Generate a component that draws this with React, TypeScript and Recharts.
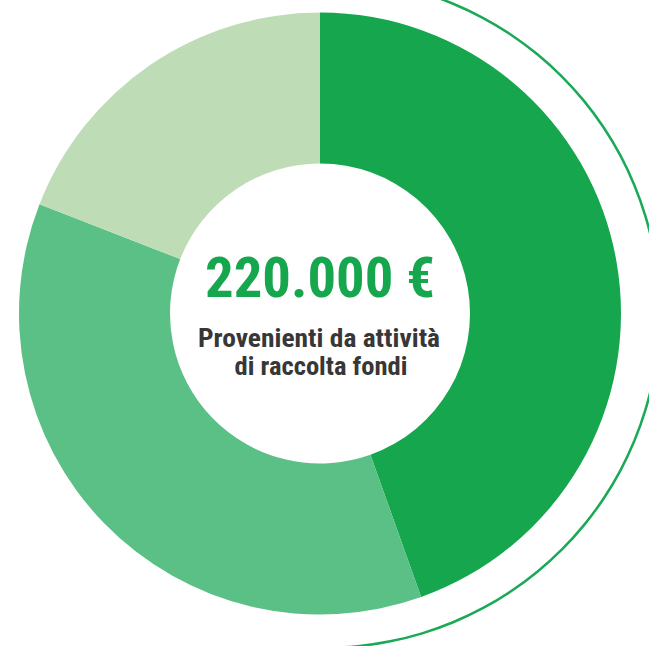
import { PieChart, Pie, Cell } from "recharts";

const sliceNames = ["Quota A", "Quota B", "Quota C"];
const sliceValues = [98000, 80000, 42000];
const totalLabel = "220.000 €";
const captionLines = ["Provenienti da attività", "di raccolta fondi"];
const ringValues = [1];

const COLORS = ["#16a74e", "#5bc085", "#bedcb6"];
const GREEN = "#16a74e";
const FONT = "'Roboto Condensed', 'Liberation Sans Narrow', 'DejaVu Sans Condensed', Roboto, sans-serif";

const data = sliceNames.map((name, i) => ({ name, value: sliceValues[i] }));
const ringData = ringValues.map((value) => ({ value }));

const CX = 320;
const CY = 313.5;

// texts in the hole of the donut, laid over the chart
function CenterText() {
  return (
    <svg
      width={649}
      height={646}
      style={{ position: "absolute", left: 0, top: 0, pointerEvents: "none" }}
    >
      <text
        x={CX}
        y={CY - 17}
        textAnchor="middle"
        fill={GREEN}
        fontFamily={FONT}
        fontWeight={700}
        fontSize={56}
        textLength={230}
        lengthAdjust="spacingAndGlyphs"
      >
        {totalLabel}
      </text>
      <text
        x={CX - 1}
        y={CY + 33}
        textAnchor="middle"
        fill="#373737"
        fontFamily={FONT}
        fontWeight={700}
        fontSize={25}
        textLength={242}
        lengthAdjust="spacingAndGlyphs"
      >
        {captionLines[0]}
      </text>
      <text
        x={CX + 1}
        y={CY + 61}
        textAnchor="middle"
        fill="#373737"
        fontFamily={FONT}
        fontWeight={700}
        fontSize={25}
        textLength={173}
        lengthAdjust="spacingAndGlyphs"
      >
        {captionLines[1]}
      </text>
    </svg>
  );
}

export default function App() {
  return (
    <div style={{ position: "absolute", left: 0, top: 0, width: 649, height: 646, background: "#fff" }}>
      <PieChart width={649} height={646} margin={{ top: 0, right: 0, bottom: 0, left: 0 }}>
        <Pie
          data={ringData}
          dataKey="value"
          cx={325}
          cy={313}
          innerRadius={333.5}
          outerRadius={336}
          startAngle={90}
          endAngle={-90}
          fill="#1aa957"
          stroke="none"
          isAnimationActive={false}
        />
        <Pie
          data={data}
          dataKey="value"
          nameKey="name"
          cx={CX}
          cy={CY}
          innerRadius={150}
          outerRadius={301}
          startAngle={90}
          endAngle={-270}
          stroke="none"
          isAnimationActive={false}
        >
          {data.map((d, i) => (
            <Cell key={d.name} fill={COLORS[i]} />
          ))}
        </Pie>
      </PieChart>
      <CenterText />
    </div>
  );
}
